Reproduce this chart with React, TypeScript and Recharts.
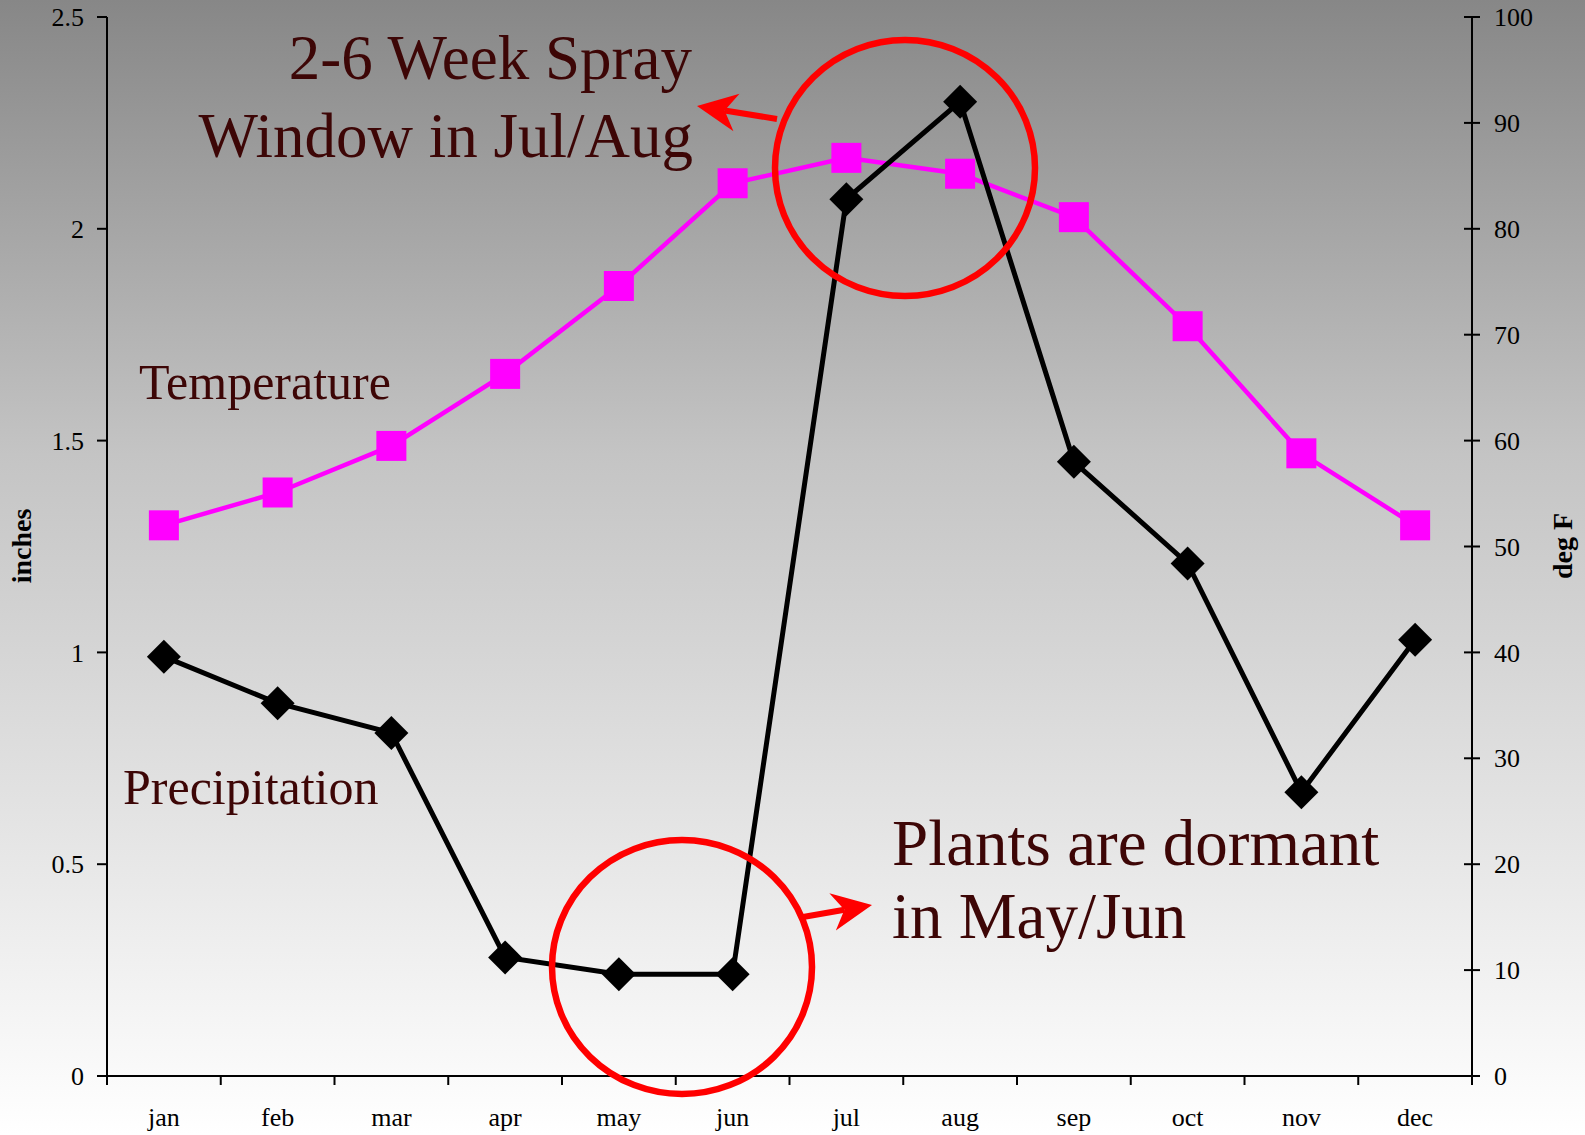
import { LineChart, Line, XAxis, YAxis } from 'recharts';

const months = ['jan', 'feb', 'mar', 'apr', 'may', 'jun', 'jul', 'aug', 'sep', 'oct', 'nov', 'dec'];
const precipitation = [0.99, 0.88, 0.81, 0.28, 0.24, 0.24, 2.07, 2.3, 1.45, 1.21, 0.67, 1.03];
const temperature = [52, 55.1, 59.5, 66.3, 74.6, 84.3, 86.7, 85.2, 81.1, 70.8, 58.8, 52];
const inchTicks = [0, 0.5, 1, 1.5, 2, 2.5];
const degTicks = [0, 10, 20, 30, 40, 50, 60, 70, 80, 90, 100];

const data = months.map((m, i) => ({ month: m, precip: precipitation[i], temp: temperature[i] }));

const W = 1585;
const H = 1135;
const BAND = 1365 / 12;
const FONT = '"Liberation Serif", "Times New Roman", serif';
const TEXT_RED = '#3d0606';

const XTick = ({ x, y, payload, index }: any) => {
  const half = BAND / 2;
  return (
    <g>
      <line x1={x - half} y1={y} x2={x - half} y2={y + 9} stroke="#000" strokeWidth={2} />
      {index === months.length - 1 && (
        <line x1={x + half} y1={y} x2={x + half} y2={y + 9} stroke="#000" strokeWidth={2} />
      )}
      <text x={x} y={y + 50} textAnchor="middle" fontFamily={FONT} fontSize={26} fill="#000">
        {payload.value}
      </text>
    </g>
  );
};

const LeftTick = ({ x, y, payload }: any) => (
  <g>
    <line x1={x - 10} y1={y} x2={x} y2={y} stroke="#000" strokeWidth={2} />
    <text x={x - 23} y={y} dy="0.35em" textAnchor="end" fontFamily={FONT} fontSize={26} fill="#000">
      {payload.value}
    </text>
  </g>
);

const RightTick = ({ x, y, payload }: any) => (
  <g>
    <line x1={x - 8} y1={y} x2={x + 8} y2={y} stroke="#000" strokeWidth={2} />
    <text x={x + 22} y={y} dy="0.35em" textAnchor="start" fontFamily={FONT} fontSize={26} fill="#000">
      {payload.value}
    </text>
  </g>
);

const Diamond = ({ cx, cy }: any) => {
  if (cx == null || cy == null) return null;
  const r = 17;
  return <polygon points={`${cx},${cy - r} ${cx + r},${cy} ${cx},${cy + r} ${cx - r},${cy}`} fill="#000" />;
};

const Square = ({ cx, cy }: any) => {
  if (cx == null || cy == null) return null;
  return <rect x={cx - 15} y={cy - 15} width={30} height={30} fill="#ff00ff" />;
};

function Arrow({ tail, tip }: { tail: [number, number]; tip: [number, number] }) {
  const dx = tip[0] - tail[0];
  const dy = tip[1] - tail[1];
  const len = Math.hypot(dx, dy);
  const ux = dx / len;
  const uy = dy / len;
  const nx = -uy;
  const ny = ux;
  const L = 40;
  const hw = 19;
  const notch = 12;
  const bx = tip[0] - ux * L;
  const by = tip[1] - uy * L;
  const mx = tip[0] - ux * (L - notch);
  const my = tip[1] - uy * (L - notch);
  return (
    <g>
      <line x1={tail[0]} y1={tail[1]} x2={mx} y2={my} stroke="#ff0000" strokeWidth={6} />
      <polygon
        points={`${tip[0]},${tip[1]} ${bx + nx * hw},${by + ny * hw} ${mx},${my} ${bx - nx * hw},${by - ny * hw}`}
        fill="#ff0000"
      />
    </g>
  );
}

export default function App() {
  return (
    <div
      style={{
        position: 'absolute',
        left: 0,
        top: 0,
        width: W,
        height: H,
        background: 'linear-gradient(to bottom, #878787 0%, #c4c4c4 40%, #ffffff 100%)',
      }}
    >
      <LineChart width={W} height={H} data={data} margin={{ top: 17, right: 0, bottom: 0, left: 0 }}>
        <XAxis
          dataKey="month"
          height={59}
          interval={0}
          padding={{ left: BAND / 2, right: BAND / 2 }}
          tickLine={false}
          tickSize={0}
          tickMargin={0}
          tick={<XTick />}
          axisLine={{ stroke: '#000', strokeWidth: 2 }}
        />
        <YAxis
          yAxisId="in"
          orientation="left"
          width={107}
          domain={[0, 2.5]}
          ticks={inchTicks}
          interval={0}
          tickLine={false}
          tickSize={0}
          tickMargin={0}
          tick={<LeftTick />}
          axisLine={{ stroke: '#000', strokeWidth: 2 }}
        />
        <YAxis
          yAxisId="deg"
          orientation="right"
          width={113}
          domain={[0, 100]}
          ticks={degTicks}
          interval={0}
          tickLine={false}
          tickSize={0}
          tickMargin={0}
          tick={<RightTick />}
          axisLine={{ stroke: '#000', strokeWidth: 2 }}
        />
        <Line
          yAxisId="deg"
          dataKey="temp"
          stroke="#ff00ff"
          strokeWidth={4.5}
          dot={<Square />}
          activeDot={false}
          isAnimationActive={false}
        />
        <Line
          yAxisId="in"
          dataKey="precip"
          stroke="#000"
          strokeWidth={5}
          dot={<Diamond />}
          activeDot={false}
          isAnimationActive={false}
        />
      </LineChart>
      <svg width={W} height={H} style={{ position: 'absolute', left: 0, top: 0, pointerEvents: 'none' }}>
        <text x={21} y={546} transform="rotate(-90 21 546)" dy="0.35em" textAnchor="middle" fontFamily={FONT} fontWeight="bold" fontSize={28} fill="#000">
          inches
        </text>
        <text x={1562} y={546} transform="rotate(-90 1562 546)" dy="0.35em" textAnchor="middle" fontFamily={FONT} fontWeight="bold" fontSize={28} fill="#000">
          deg F
        </text>
        <g fontFamily={FONT} fill={TEXT_RED}>
          <text x={692} y={79} textAnchor="end" fontSize={63}>2-6 Week Spray</text>
          <text x={693} y={157} textAnchor="end" fontSize={63}>Window in Jul/Aug</text>
          <text x={139} y={399} fontSize={50}>Temperature</text>
          <text x={123} y={804} fontSize={50}>Precipitation</text>
          <text x={892} y={865} fontSize={65}>Plants are dormant</text>
          <text x={892} y={938} fontSize={65}>in May/Jun</text>
        </g>
        <ellipse cx={905} cy={168} rx={130} ry={128} fill="none" stroke="#ff0000" strokeWidth={6.5} />
        <ellipse cx={682} cy={967} rx={130} ry={127} fill="none" stroke="#ff0000" strokeWidth={6.5} />
        <Arrow tail={[777, 119]} tip={[697, 106]} />
        <Arrow tail={[803, 917]} tip={[872, 905]} />
      </svg>
    </div>
  );
}
